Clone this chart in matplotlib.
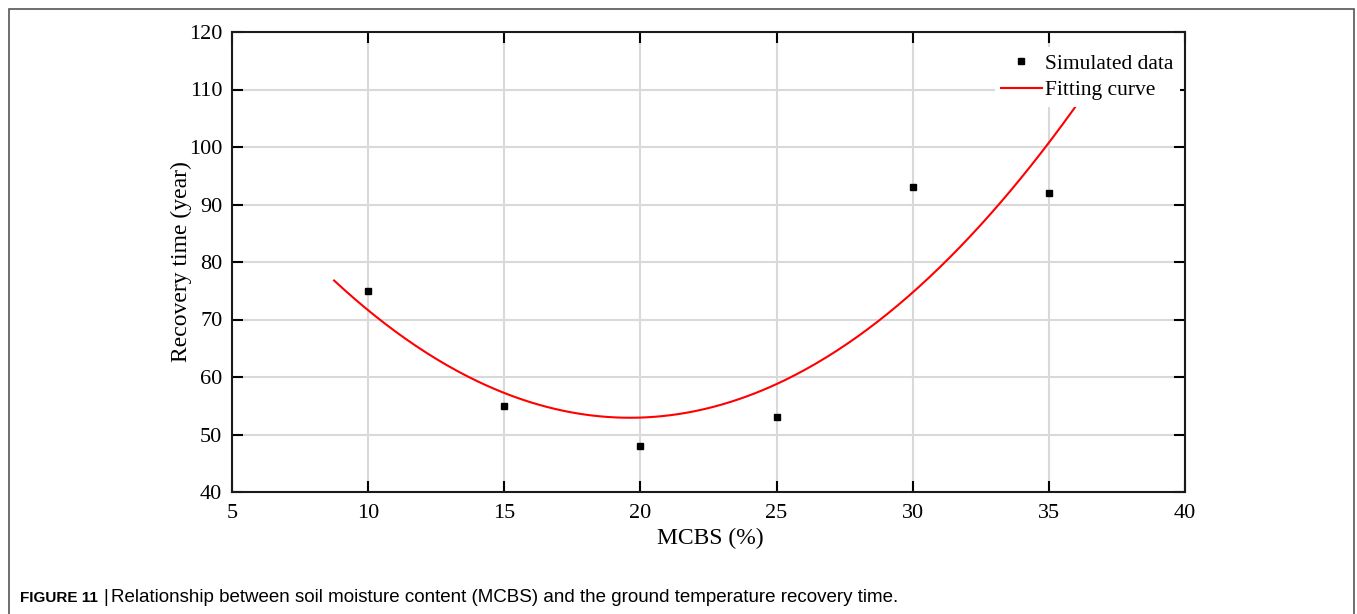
import numpy as np
import matplotlib
matplotlib.use("Agg")
import matplotlib.pyplot as plt
from matplotlib.patches import Rectangle

# Data
mcbs = [10, 15, 20, 25, 30, 35]
recovery = [75, 55, 48, 53, 93, 92]
fit_range = [8.75, 36.9]
xticks = [5, 10, 15, 20, 25, 30, 35, 40]
yticks = [40, 50, 60, 70, 80, 90, 100, 110, 120]

coef = np.polyfit(mcbs, recovery, 2)
xf = np.linspace(fit_range[0], fit_range[1], 300)
yf = np.polyval(coef, xf)

W, H = 1357, 614
fig = plt.figure(figsize=(W / 100, H / 100), dpi=100)
serif = ["Liberation Serif", "DejaVu Serif"]
sans = ["Liberation Sans", "DejaVu Sans"]

ax = fig.add_axes([232 / W, 1 - 492 / H, (1185 - 232) / W, (492 - 32) / H])
ax.plot(xf, yf, color="red", lw=1.5, label="Fitting curve", zorder=3)
ax.plot(mcbs, recovery, ls="none", marker="s", ms=4.5, color="black",
        label="Simulated data", zorder=4)

ax.set_xlim(5, 40)
ax.set_ylim(40, 120)
ax.set_xticks(xticks)
ax.set_yticks(yticks)
ax.grid(True, color="#d9d9d9", lw=1.5)
ax.set_axisbelow(True)
ax.tick_params(direction="in", length=8, width=1.5, top=True, right=True,
               labelsize=16)
ax.tick_params(axis="x", pad=9)
ax.tick_params(axis="y", pad=7)
for lab in ax.get_xticklabels() + ax.get_yticklabels():
    lab.set_family(serif)
for s in ax.spines.values():
    s.set_linewidth(1.5)
    s.set_color("#1a1a1a")

ax.set_xlabel("MCBS (%)", fontsize=17, family=serif)
ax.set_ylabel("Recovery time (year)", fontsize=17, family=serif)
ax.xaxis.set_label_coords((710 - 232) / 953, (492 - 538) / 460)
ax.xaxis.label.set_verticalalignment("center")
ax.yaxis.set_label_coords((181 - 232) / 953, 0.5)
ax.yaxis.label.set_verticalalignment("center")

handles, labels = ax.get_legend_handles_labels()
leg = ax.legend(handles[::-1], labels[::-1], loc="upper right",
                bbox_to_anchor=(1 - 5 / 953, 1 - 15 / 460),
                prop={"family": serif, "size": 15.5}, frameon=True,
                framealpha=1, edgecolor="none", fancybox=False,
                handlelength=1.9, handletextpad=0.15, borderpad=0.3,
                labelspacing=0.3, borderaxespad=0.0)
leg.get_frame().set_linewidth(0)

# Figure border
fig.patches.append(Rectangle((9 / W, -0.05), (1354 - 9) / W, 1.05 - 9 / H,
                             transform=fig.transFigure, fill=False,
                             edgecolor="#555555", lw=1.2))

fig.text(20 / W, 1 - 598 / H, "FIGURE 11", fontsize=11, fontweight="bold",
         family=sans, va="center", ha="left")
fig.text(103 / W, 1 - 598 / H, "|", fontsize=13.5, family=sans,
         va="center", ha="left")
fig.text(111 / W, 1 - 598 / H,
         "Relationship between soil moisture content (MCBS) and the ground temperature recovery time.",
         fontsize=13.5, family=sans, va="center", ha="left")

fig.savefig("out.png", dpi=100)
